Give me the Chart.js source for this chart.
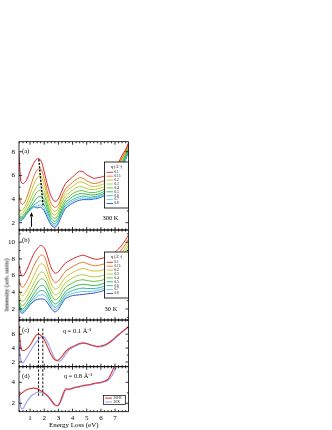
<!DOCTYPE html>
<html><head><meta charset="utf-8">
<script src="https://cdn.jsdelivr.net/npm/chart.js@4.4.0/dist/chart.umd.min.js"></script>
<style>
html,body{margin:0;padding:0;background:#fff;}
#wrap{position:relative;width:332px;height:430px;overflow:hidden;background:#fff;}
canvas{position:absolute;left:0;top:0;}
#ytitle{position:absolute;left:6px;top:285px;transform:translate(-50%,-50%) rotate(-90deg);white-space:nowrap;font:6.5px 'Liberation Serif',serif;color:#000;}
</style></head><body>
<div id="wrap">
<canvas id="cA" width="332" height="430"></canvas>
<canvas id="cB" width="332" height="430"></canvas>
<canvas id="cC" width="332" height="430"></canvas>
<canvas id="cD" width="332" height="430"></canvas>
<div id="ytitle">Intensity (arb. units)</div>
</div>
<script>
// ---------------- data ----------------
const energy = [0.22,0.35,0.5,0.75,1.0,1.25,1.5,1.75,2.0,2.25,2.5,2.75,3.0,3.25,3.5,3.75,4.0,4.25,4.5,4.75,5.0,5.25,5.5,5.75,6.0,6.25,6.5,6.75,7.0,7.25,7.5,7.75,7.95];
const qLabels = ['0.1','0.15','0.2','0.3','0.4','0.5','0.6','0.7','0.8'];
const tempLabels = ['300 K','30 K'];
const xTickLabels = [1,2,3,4,5,6,7];
const yTicksA = [2,4,6,8];
const yTicksB = [2,4,6,8,10];
const yTicksC = [2,4,6];
const yTicksD = [2,4];

// panel (a), 300 K
const a_q010 = [7.9,5.5,5.3,5.6,6.35,7.0,7.4,7.3,6.3,5.1,4.2,3.8,4.0,4.7,5.3,5.6,5.85,6.15,6.35,6.3,6.05,5.9,5.75,5.8,5.85,5.95,6.1,6.3,6.6,7.1,7.7,8.2,8.75];
const a_q015 = [4.4,3.65,3.55,4.05,4.95,5.85,6.45,6.55,5.7,4.5,3.6,3.3,3.5,4.25,4.85,5.15,5.4,5.65,5.8,5.75,5.55,5.4,5.3,5.35,5.45,5.55,5.75,6.0,6.35,6.9,7.5,8.05,8.65];
const a_q020 = [3.3,3.0,3.1,3.6,4.4,5.2,5.8,5.95,5.2,4.1,3.2,2.95,3.2,4.0,4.55,4.85,5.05,5.3,5.45,5.4,5.25,5.1,5.05,5.1,5.2,5.3,5.5,5.8,6.2,6.8,7.45,8.0,8.6];
const a_q030 = [2.9,2.7,2.8,3.3,3.9,4.6,5.1,5.3,4.7,3.7,2.9,2.65,2.95,3.7,4.25,4.5,4.75,4.95,5.05,5.0,4.9,4.8,4.8,4.85,4.95,5.05,5.3,5.6,6.0,6.6,7.3,7.9,8.5];
const a_q040 = [2.7,2.5,2.6,3.0,3.5,4.1,4.6,4.75,4.3,3.4,2.6,2.35,2.7,3.4,3.95,4.2,4.45,4.6,4.7,4.7,4.6,4.55,4.55,4.6,4.7,4.85,5.05,5.4,5.85,6.45,7.15,7.8,8.4];
const a_q050 = [2.55,2.4,2.5,2.85,3.25,3.7,4.1,4.25,3.9,3.1,2.35,2.1,2.45,3.15,3.7,3.95,4.2,4.35,4.45,4.45,4.4,4.35,4.35,4.4,4.5,4.65,4.85,5.2,5.7,6.3,7.0,7.7,8.3];
const a_q060 = [2.45,2.3,2.4,2.75,3.1,3.45,3.7,3.85,3.5,2.8,2.1,1.9,2.25,2.95,3.5,3.75,3.95,4.1,4.2,4.25,4.2,4.15,4.2,4.25,4.35,4.5,4.7,5.05,5.55,6.15,6.85,7.55,8.2];
const a_q070 = [2.35,2.2,2.35,2.7,3.05,3.3,3.4,3.5,3.2,2.55,1.95,1.75,2.1,2.8,3.35,3.6,3.8,3.95,4.05,4.1,4.05,4.05,4.1,4.15,4.25,4.4,4.6,4.95,5.45,6.05,6.75,7.45,8.1];
const a_q080 = [2.3,2.15,2.3,2.75,3.15,3.35,3.25,3.3,3.0,2.35,1.8,1.6,1.95,2.65,3.2,3.45,3.65,3.8,3.9,3.95,3.95,3.95,4.0,4.05,4.15,4.3,4.5,4.85,5.35,5.95,6.65,7.35,8.0];

// panel (b), 30 K
const b_q010 = [7.3,6.2,5.95,6.6,7.6,8.55,9.2,9.6,9.35,8.2,6.9,6.3,6.45,7.0,7.5,7.75,8.0,8.2,8.35,8.45,8.3,8.15,8.0,7.95,8.05,8.15,8.3,8.5,8.8,9.2,9.7,10.3,10.85];
const b_q015 = [5.6,4.75,4.6,5.2,6.1,7.1,7.9,8.45,8.3,7.1,5.8,5.2,5.35,5.95,6.5,6.8,7.05,7.3,7.5,7.6,7.45,7.3,7.2,7.2,7.3,7.4,7.6,7.85,8.2,8.65,9.2,9.8,10.4];
const b_q020 = [4.4,3.7,3.6,4.2,5.0,5.9,6.8,7.4,7.25,6.2,5.0,4.4,4.55,5.2,5.8,6.1,6.35,6.6,6.75,6.85,6.75,6.6,6.55,6.55,6.6,6.75,6.95,7.25,7.65,8.15,8.75,9.4,10.0];
const b_q030 = [3.6,3.0,2.9,3.4,4.2,5.0,5.8,6.4,6.3,5.4,4.3,3.7,3.85,4.55,5.15,5.45,5.7,5.95,6.05,6.1,6.0,5.9,5.85,5.9,5.95,6.1,6.35,6.7,7.1,7.65,8.3,8.95,9.6];
const b_q040 = [3.1,2.5,2.4,2.9,3.6,4.35,5.1,5.6,5.5,4.7,3.7,3.1,3.3,3.95,4.6,4.9,5.1,5.35,5.45,5.5,5.4,5.35,5.3,5.35,5.4,5.55,5.8,6.2,6.65,7.2,7.85,8.55,9.2];
const b_q050 = [2.75,2.1,2.0,2.5,3.1,3.75,4.4,4.8,4.75,4.0,3.1,2.6,2.8,3.45,4.05,4.4,4.6,4.8,4.9,4.95,4.9,4.85,4.8,4.85,4.95,5.1,5.35,5.75,6.25,6.8,7.45,8.15,8.8];
const b_q060 = [2.5,1.85,1.75,2.2,2.8,3.35,3.9,4.2,4.15,3.5,2.7,2.2,2.45,3.1,3.7,4.0,4.2,4.35,4.45,4.5,4.45,4.45,4.45,4.5,4.6,4.75,5.0,5.4,5.9,6.45,7.1,7.8,8.4];
const b_q070 = [2.4,1.7,1.6,2.05,2.6,3.05,3.5,3.7,3.65,3.1,2.35,1.9,2.2,2.85,3.45,3.7,3.85,4.0,4.05,4.1,4.1,4.1,4.15,4.25,4.35,4.5,4.75,5.15,5.65,6.2,6.85,7.5,8.0];
const b_q080 = [2.65,1.6,1.5,1.95,2.5,2.9,3.15,3.2,3.15,2.7,2.05,1.65,1.95,2.65,3.25,3.45,3.6,3.65,3.7,3.75,3.8,3.85,3.9,4.0,4.1,4.25,4.5,4.9,5.4,5.95,6.55,7.15,7.6];

// panel (c), q = 0.1
const c_300K = [7.2,4.0,3.65,3.85,4.4,5.25,5.95,5.85,5.2,4.1,3.0,2.3,2.3,2.8,3.5,3.95,4.2,4.45,4.65,4.75,4.65,4.5,4.35,4.25,4.3,4.45,4.7,5.05,5.5,5.95,6.35,6.75,7.05];
const c_30K  = [4.5,2.3,1.85,2.6,3.5,4.3,5.0,5.55,5.6,4.8,3.6,2.5,2.1,2.35,3.1,3.75,4.1,4.35,4.55,4.7,4.6,4.45,4.3,4.15,4.2,4.35,4.6,4.95,5.4,5.85,6.3,6.7,7.0];
// panel (d), q = 0.8
const d_300K = [2.7,2.9,3.05,3.3,3.4,3.45,3.4,3.2,3.0,2.7,2.3,1.85,1.8,2.6,3.35,3.35,3.45,3.55,3.6,3.7,3.75,3.8,3.9,3.95,4.0,4.1,4.3,4.9,5.7,6.3,6.8,7.2,7.6];
const d_30K  = [3.2,1.6,1.5,2.1,2.6,2.85,3.05,3.05,2.95,2.65,2.2,1.85,1.8,2.4,3.25,3.3,3.4,3.5,3.55,3.65,3.7,3.75,3.85,3.9,3.95,4.05,4.2,4.55,5.2,5.9,6.5,7.0,7.5];

// ---------------- styling / layout ----------------
const qColors = ['#d7262b','#e07b2c','#d2bd2a','#aacd36','#62bf3d','#2fb451','#2fb59c','#5cc7dd','#3550d0'];
const tColors = ['#d93a32','#9a9cf5'];
const FONT = "'Liberation Serif','Times New Roman',serif";
const W = 332, H = 430, AREA_LEFT = 19, AREA_RIGHT = 128.5;
const X_MIN = 0.22, X_MAX = 7.95;

function pts(arr){ return energy.map((e,i)=>({x:e,y:arr[i]})); }
function lineDs(arr,color,w){ return {data:pts(arr),borderColor:color,borderWidth:w||1,pointRadius:0,tension:0.3,fill:false}; }

function framePlugin(yMinorList){
  return {id:'frame', afterDatasetsDraw(chart){
    const {ctx, chartArea:a, scales:{x,y}} = chart;
    ctx.save();
    ctx.strokeStyle='#000'; ctx.lineWidth=0.8;
    ctx.strokeRect(a.left,a.top,a.right-a.left,a.bottom-a.top);
    ctx.beginPath();
    for(let v=0.25; v<X_MAX; v+=0.25){
      if(v<X_MIN) continue;
      const major = Math.abs(v-Math.round(v))<1e-6;
      const L = major?3:1.6;
      const px = x.getPixelForValue(v);
      ctx.moveTo(px,a.bottom); ctx.lineTo(px,a.bottom-L);
      ctx.moveTo(px,a.top); ctx.lineTo(px,a.top+L);
    }
    y.ticks.map(t=>t.value).forEach(v=>{const py=y.getPixelForValue(v);
      ctx.moveTo(a.left,py); ctx.lineTo(a.left+3,py);
      ctx.moveTo(a.right,py); ctx.lineTo(a.right-3,py);});
    yMinorList.forEach(v=>{ if(v<=y.min||v>=y.max) return; const py=y.getPixelForValue(v);
      ctx.moveTo(a.left,py); ctx.lineTo(a.left+1.6,py);
      ctx.moveTo(a.right,py); ctx.lineTo(a.right-1.6,py);});
    ctx.stroke();
    ctx.restore();
  }};
}

function drawQLegend(ctx, top, bottom){
  const l=104.5, r=128.5;
  ctx.save();
  ctx.fillStyle='#fff'; ctx.fillRect(l,top,r-l,bottom-top);
  ctx.strokeStyle='#000'; ctx.lineWidth=0.8; ctx.strokeRect(l,top,r-l,bottom-top);
  ctx.fillStyle='#000'; ctx.textBaseline='middle';
  ctx.font=`4.2px ${FONT}`; ctx.textAlign='center';
  ctx.fillText('q (Å⁻¹)', (l+r)/2, top+4.8);
  ctx.font=`3.4px ${FONT}`; ctx.textAlign='left';
  qLabels.forEach((lab,i)=>{
    const yy = top+10.3+i*3.9;
    ctx.strokeStyle=qColors[i]; ctx.lineWidth=0.9;
    ctx.beginPath(); ctx.moveTo(106.5,yy); ctx.lineTo(113,yy); ctx.stroke();
    ctx.fillText(lab,114.5,yy);
  });
  ctx.restore();
}

function makeChart(id, datasets, yMin, yMax, yTicks, top, bottom, showX, deco){
  const yMinor=[]; for(let v=Math.ceil(yMin); v<yMax; v++){ if(!yTicks.includes(v)) yMinor.push(v); }
  const xh = showX ? 18 : 0;
  return new Chart(document.getElementById(id), {
    type:'line',
    data:{datasets},
    options:{
      responsive:false, animation:false, devicePixelRatio:1,
      layout:{padding:{left:0,right:W-AREA_RIGHT,top:top,bottom:H-bottom-xh}},
      plugins:{legend:{display:false},tooltip:{enabled:false}},
      scales:{
        x:{type:'linear',min:X_MIN,max:X_MAX,display:showX,
           afterBuildTicks:s=>{s.ticks=xTickLabels.map(v=>({value:v}));},
           afterFit:s=>{s.height=xh;},
           grid:{display:false,drawTicks:false},border:{display:false},
           ticks:{font:{family:FONT,size:7},color:'#000',padding:2,maxRotation:0,autoSkip:false},
           title:{display:showX,text:'Energy Loss (eV)',font:{family:FONT,size:7},color:'#000',padding:0}},
        y:{type:'linear',min:yMin,max:yMax,
           afterBuildTicks:s=>{s.ticks=yTicks.map(v=>({value:v}));},
           afterFit:s=>{s.width=AREA_LEFT;},
           grid:{display:false,drawTicks:false},border:{display:false},
           ticks:{font:{family:FONT,size:7},color:'#000',padding:4}}
      }
    },
    plugins:[framePlugin(yMinor), {id:'deco', afterDraw(chart){ deco(chart); }}]
  });
}

function txt(ctx, s, x, y, size, align){
  ctx.save(); ctx.fillStyle='#000'; ctx.font=`${size}px ${FONT}`;
  ctx.textAlign=align||'left'; ctx.textBaseline='middle'; ctx.fillText(s,x,y); ctx.restore();
}

// ---- panel (a)
const dsA = [
  {data:[{x:1.62,y:7.35},{x:1.92,y:3.45}],borderColor:'#000',borderWidth:1.4,borderDash:[2,1.4],pointRadius:0,tension:0},
  {data:[{x:1.1,y:1.65},{x:1.1,y:2.5}],borderColor:'#000',borderWidth:1,pointRadius:0,tension:0}
].concat([a_q010,a_q015,a_q020,a_q030,a_q040,a_q050,a_q060,a_q070,a_q080].map((s,i)=>lineDs(s,qColors[i],1)));
makeChart('cA', dsA, 1.38, 8.85, yTicksA, 141.7, 230, false, chart=>{
  const {ctx, chartArea:a, scales:{x,y}} = chart;
  const px=x.getPixelForValue(1.1), py=y.getPixelForValue(2.9);
  ctx.save(); ctx.fillStyle='#000'; ctx.beginPath();
  ctx.moveTo(px,py); ctx.lineTo(px-1.8,py+4.5); ctx.lineTo(px+1.8,py+4.5); ctx.closePath(); ctx.fill(); ctx.restore();
  drawQLegend(ctx, 162, 208);
  txt(ctx,'(a)',a.left+3,a.top+9.5,6.5);
  txt(ctx,'300 K',110.5,218.5,6.5,'center');
});

// ---- panel (b)
const dsB = [b_q010,b_q015,b_q020,b_q030,b_q040,b_q050,b_q060,b_q070,b_q080].map((s,i)=>lineDs(s,qColors[i],1));
makeChart('cB', dsB, 0.68, 11.46, yTicksB, 230, 320, false, chart=>{
  const {ctx, chartArea:a} = chart;
  drawQLegend(ctx, 252, 298);
  txt(ctx,'(b)',a.left+3,a.top+10,6.5);
  txt(ctx,'30 K',111,309,6.5,'center');
});

// ---- panel (c)
const dsC = [
  {data:[{x:1.6,y:6.8},{x:1.6,y:1.0}],borderColor:'#000',borderWidth:0.9,borderDash:[2.5,1.5],pointRadius:0,tension:0},
  {data:[{x:1.9,y:6.8},{x:1.9,y:1.0}],borderColor:'#000',borderWidth:0.9,borderDash:[2.5,1.5],pointRadius:0,tension:0},
  lineDs(c_300K,tColors[0],1.1), lineDs(c_30K,tColors[1],1.1)
];
makeChart('cC', dsC, 1.32, 8.04, yTicksC, 320, 366.7, false, chart=>{
  const {ctx, chartArea:a} = chart;
  txt(ctx,'(c)',a.left+3,a.top+10,6.5);
  txt(ctx,'q = 0.1 Å⁻¹',77,331,6.5,'center');
});

// ---- panel (d)
const dsD = [
  {data:[{x:1.6,y:6.0},{x:1.6,y:2.65}],borderColor:'#000',borderWidth:0.9,borderDash:[2.5,1.5],pointRadius:0,tension:0},
  {data:[{x:1.9,y:6.0},{x:1.9,y:2.65}],borderColor:'#000',borderWidth:0.9,borderDash:[2.5,1.5],pointRadius:0,tension:0},
  lineDs(d_300K,tColors[0],1.1), lineDs(d_30K,tColors[1],1.1)
];
makeChart('cD', dsD, 1.2, 5.49, yTicksD, 366.7, 411.7, true, chart=>{
  const {ctx, chartArea:a} = chart;
  txt(ctx,'(d)',a.left+3,a.top+9.5,6.5);
  txt(ctx,'q = 0.8 Å⁻¹',78,376,6.5,'center');
  const l=103.5,r=125.5,t=395.5,b=404.5;
  ctx.save();
  ctx.fillStyle='#fff'; ctx.fillRect(l,t,r-l,b-t);
  ctx.strokeStyle='#000'; ctx.lineWidth=0.7; ctx.strokeRect(l,t,r-l,b-t);
  ctx.font=`3.3px ${FONT}`; ctx.textBaseline='middle'; ctx.textAlign='left'; ctx.fillStyle='#000';
  tempLabels.forEach((lab,i)=>{
    const yy=t+2.6+i*3.9;
    ctx.strokeStyle=tColors[i]; ctx.lineWidth=1;
    ctx.beginPath(); ctx.moveTo(105,yy); ctx.lineTo(112,yy); ctx.stroke();
    ctx.fillText(lab,113.5,yy);
  });
  ctx.restore();
});
</script>
</body></html>
